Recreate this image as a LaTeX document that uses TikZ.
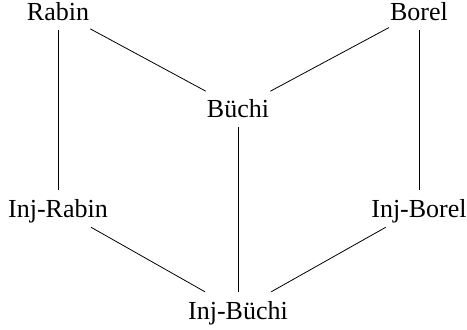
\documentclass[tikz,border=0pt]{standalone}
\usepackage{fontspec}
\setmainfont{Liberation Serif}
\begin{document}
\begin{tikzpicture}[x=1bp,y=-1bp,
  lbl/.style={anchor=base,inner xsep=1bp,inner ysep=5bp,text height=22bp,text depth=5bp,
    font=\fontsize{26bp}{30bp}\selectfont},
  edge/.style={draw=black,line width=0.8bp}]
\useasboundingbox (0,0) rectangle (467,329);
\node[lbl] (rabin) at (58,20) {Rabin};
\node[lbl] (borel) at (419,20) {Borel};
\node[lbl] (buchi) at (238,117) {Büchi};
\node[lbl] (irabin) at (58,217) {Inj-Rabin};
\node[lbl] (iborel) at (419,217) {Inj-Borel};
\node[lbl] (ibuchi) at (238,319) {Inj-Büchi};
\draw[edge] (rabin) -- (buchi);
\draw[edge] (borel) -- (buchi);
\draw[edge] (rabin) -- (irabin);
\draw[edge] (borel) -- (iborel);
\draw[edge] (buchi) -- (ibuchi);
\draw[edge] (irabin) -- (ibuchi);
\draw[edge] (iborel) -- (ibuchi);
\end{tikzpicture}
\end{document}
